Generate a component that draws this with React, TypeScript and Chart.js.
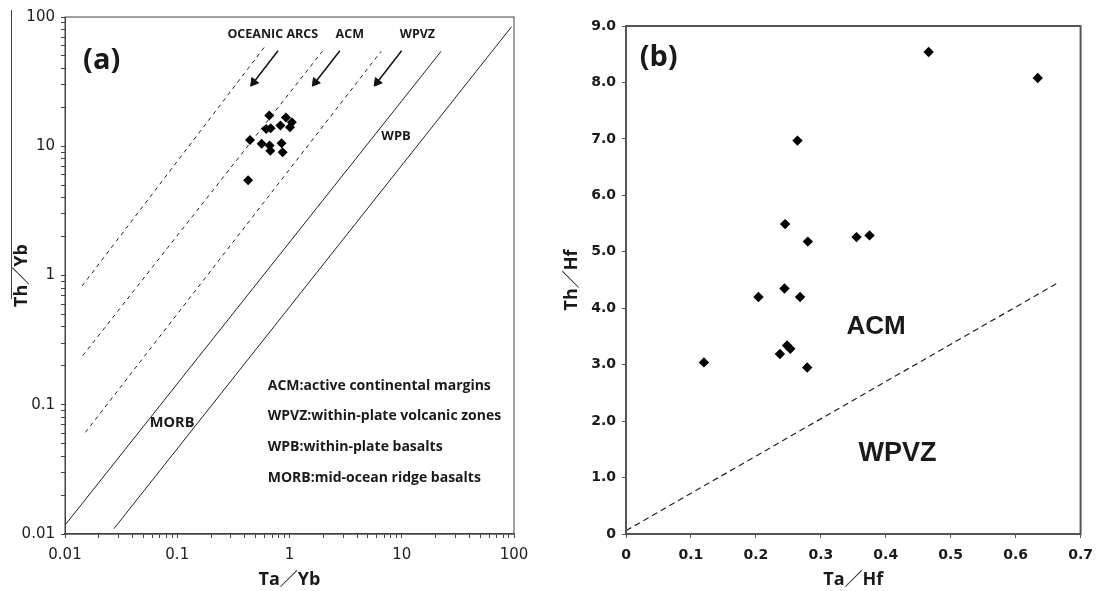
import React, { useEffect, useRef } from 'react';
import { Chart, registerables } from 'chart.js';

Chart.register(...registerables);

// ---------------- Panel (a): Th/Yb vs Ta/Yb (log-log) ----------------
const A_TA_YB = [0.66, 0.93, 1.05, 1.01, 0.83, 0.62, 0.68, 0.445, 0.565, 0.665, 0.85, 0.675, 0.868, 0.428];
const A_TH_YB = [17.3, 16.7, 15.35, 14.0, 14.5, 13.6, 13.8, 11.2, 10.45, 10.15, 10.55, 9.25, 9.0, 5.45];

const A_SOLID_1_X = [0.01, 22.4];
const A_SOLID_1_Y = [0.0117, 54.2];
const A_SOLID_2_X = [0.0273, 95];
const A_SOLID_2_Y = [0.011, 84];
const A_DASH_1_X = [0.0142, 0.61];
const A_DASH_1_Y = [0.83, 59.8];
const A_DASH_2_X = [0.0144, 1.96];
const A_DASH_2_Y = [0.24, 54.2];
const A_DASH_3_X = [0.0152, 6.54];
const A_DASH_3_Y = [0.0612, 54.2];

const A_ARROW_1_X = [0.79, 0.48];
const A_ARROW_2_X = [2.81, 1.7];
const A_ARROW_3_X = [9.98, 6.05];
const A_ARROW_Y = [54.8, 31.3];

const A_TICK_VALUES = [0.01, 0.1, 1, 10, 100];
const A_TICK_LABELS = ['0.01', '0.1', '1', '10', '100'];

const A_LEGEND_LINES = [
  'ACM:active continental margins',
  'WPVZ:within-plate volcanic zones',
  'WPB:within-plate basalts',
  'MORB:mid-ocean ridge basalts',
];
const A_LEGEND_Y = [0.139, 0.0813, 0.047, 0.027];

// ---------------- Panel (b): Th/Hf vs Ta/Hf ----------------
const B_TA_HF = [0.466, 0.634, 0.264, 0.245, 0.28, 0.355, 0.375, 0.244, 0.204, 0.268, 0.12, 0.237, 0.248, 0.253, 0.279];
const B_TH_HF = [8.54, 8.08, 6.97, 5.49, 5.18, 5.26, 5.29, 4.35, 4.2, 4.2, 3.04, 3.19, 3.34, 3.28, 2.95];

const B_LINE_X = [0, 0.665];
const B_LINE_Y = [0.06, 4.45];

const B_X_TICKS = [0, 0.1, 0.2, 0.3, 0.4, 0.5, 0.6, 0.7];
const B_X_LABELS = ['0', '0.1', '0.2', '0.3', '0.4', '0.5', '0.6', '0.7'];
const B_Y_TICKS = [0, 1, 2, 3, 4, 5, 6, 7, 8, 9];
const B_Y_LABELS = ['0', '1.0', '2.0', '3.0', '4.0', '5.0', '6.0', '7.0', '8.0', '9.0'];

// ---------------- helpers ----------------
const pts = (xs: number[], ys: number[]) => xs.map((x, i) => ({ x, y: ys[i] }));

function logMinorTicks(values: number[]) {
  const out: number[] = [];
  for (let i = 0; i < values.length - 1; i++) {
    for (let k = 1; k < 10; k++) out.push(Number((values[i] * k).toPrecision(6)));
  }
  out.push(values[values.length - 1]);
  return out;
}

type Note = { text: string; x: number; y: number; font: string; align?: CanvasTextAlign; color?: string };

const notesPlugin = {
  id: 'notes',
  afterDatasetsDraw(chart: any, _args: any, opts: any) {
    const { ctx, scales, chartArea } = chart;
    ctx.save();
    if (opts.frame) {
      ctx.strokeStyle = opts.frame.color;
      ctx.lineWidth = opts.frame.width;
      ctx.strokeRect(chartArea.left, chartArea.top, chartArea.right - chartArea.left, chartArea.bottom - chartArea.top);
    }
    (opts.notes || []).forEach((n: Note) => {
      ctx.font = n.font;
      ctx.fillStyle = n.color || '#1a1a1a';
      ctx.textAlign = n.align || 'center';
      ctx.textBaseline = 'middle';
      ctx.fillText(n.text, scales.x.getPixelForValue(n.x), scales.y.getPixelForValue(n.y));
    });
    ctx.restore();
  },
};

const SANS = '"Open Sans", "Noto Sans CJK SC", sans-serif';

function lineDs(xs: number[], ys: number[], dash: number[], width = 1) {
  return {
    data: pts(xs, ys),
    showLine: true,
    borderColor: '#222',
    borderWidth: width,
    borderDash: dash,
    pointRadius: 0,
    pointHoverRadius: 0,
  };
}

function arrowDs(xs: number[], ys: number[]) {
  return {
    data: pts(xs, ys),
    showLine: true,
    borderColor: '#111',
    borderWidth: 1.5,
    pointRadius: [0, 5],
    pointHoverRadius: [0, 5],
    pointStyle: 'triangle',
    pointRotation: 218,
    pointBackgroundColor: '#111',
    pointBorderColor: '#111',
    pointBorderWidth: 1,
  };
}

function ChartA() {
  const ref = useRef<HTMLCanvasElement>(null);
  useEffect(() => {
    const ticks = logMinorTicks(A_TICK_VALUES);
    const label = (v: number) => {
      const j = A_TICK_VALUES.findIndex((t) => Math.abs(Math.log10(t) - Math.log10(v)) < 1e-6);
      return j >= 0 ? A_TICK_LABELS[j] : '';
    };
    const axisCommon = (isX: boolean) => ({
      type: 'logarithmic',
      min: 0.01,
      max: 100,
      afterBuildTicks: (s: any) => {
        s.ticks = ticks.map((v) => ({ value: v }));
      },
      afterFit: (s: any) => {
        if (isX) s.height = 57;
        else s.width = 65;
      },
      ticks: {
        autoSkip: false,
        maxRotation: 0,
        padding: isX ? 8 : 6,
        color: '#222',
        font: { family: '"DejaVu Sans", sans-serif', size: 15 },
        callback: (v: number) => label(v),
      },
      grid: { drawOnChartArea: false, drawTicks: true, tickLength: 4, tickColor: '#444', color: '#444' },
      border: { display: true, color: '#444', width: isX ? 1.5 : 1 },
      title: {
        display: true,
        text: isX ? 'Ta／Yb' : 'Th／Yb',
        color: '#1a1a1a',
        font: { family: SANS, size: 18, weight: 'bold' },
        padding: isX ? { top: 0, bottom: 0 } : { top: 11, bottom: 0 },
      },
    });
    const noteFont = (px: number) => `bold ${px}px ${SANS}`;
    const chart = new Chart(ref.current as HTMLCanvasElement, {
      type: 'scatter',
      data: {
        datasets: [
          {
            data: pts(A_TA_YB, A_TH_YB),
            pointStyle: 'rectRot',
            pointRadius: 5,
            pointHoverRadius: 5,
            backgroundColor: '#000',
            borderColor: '#000',
            borderWidth: 0,
          },
          arrowDs(A_ARROW_1_X, A_ARROW_Y),
          arrowDs(A_ARROW_2_X, A_ARROW_Y),
          arrowDs(A_ARROW_3_X, A_ARROW_Y),
          lineDs(A_DASH_1_X, A_DASH_1_Y, [4, 4]),
          lineDs(A_DASH_2_X, A_DASH_2_Y, [4, 4]),
          lineDs(A_DASH_3_X, A_DASH_3_Y, [4, 4]),
          lineDs(A_SOLID_1_X, A_SOLID_1_Y, []),
          lineDs(A_SOLID_2_X, A_SOLID_2_Y, []),
        ] as any,
      },
      options: {
        animation: false,
        responsive: false,
        devicePixelRatio: 1,
        layout: { padding: { top: 17, right: 31, left: 0, bottom: 0 } },
        scales: { x: axisCommon(true), y: axisCommon(false) } as any,
        plugins: {
          legend: { display: false },
          tooltip: { enabled: false },
          notes: {
            frame: { color: '#444', width: 1 },
            notes: [
              { text: '(a)', x: 0.0145, y: 46, font: noteFont(29), align: 'left' },
              { text: 'OCEANIC ARCS', x: 0.71, y: 73, font: noteFont(12.5) },
              { text: 'ACM', x: 3.44, y: 73, font: noteFont(12.5) },
              { text: 'WPVZ', x: 13.8, y: 73, font: noteFont(12.5) },
              { text: 'WPB', x: 8.9, y: 11.9, font: noteFont(13) },
              { text: 'MORB', x: 0.09, y: 0.0723, font: noteFont(14.5) },
              ...A_LEGEND_LINES.map((t, i) => ({ text: t, x: 0.64, y: A_LEGEND_Y[i], font: noteFont(14), align: 'left' })),
            ],
          },
        } as any,
      },
      plugins: [notesPlugin as any],
    });
    return () => chart.destroy();
  }, []);
  return <canvas ref={ref} width={545} height={591} style={{ width: 545, height: 591, display: 'block' }} />;
}

function ChartB() {
  const ref = useRef<HTMLCanvasElement>(null);
  useEffect(() => {
    const tickFont = { family: '"DejaVu Sans", sans-serif', size: 14, weight: 'bold' };
    const chart = new Chart(ref.current as HTMLCanvasElement, {
      type: 'scatter',
      data: {
        datasets: [
          {
            data: pts(B_TA_HF, B_TH_HF),
            pointStyle: 'rectRot',
            pointRadius: 5.2,
            pointHoverRadius: 5.2,
            backgroundColor: '#000',
            borderColor: '#000',
            borderWidth: 0,
          },
          lineDs(B_LINE_X, B_LINE_Y, [6, 4], 1.2),
        ] as any,
      },
      options: {
        animation: false,
        responsive: false,
        devicePixelRatio: 1,
        layout: { padding: { top: 26, right: 12, left: 0, bottom: 0 } },
        scales: {
          x: {
            type: 'linear',
            min: 0,
            max: 0.7,
            afterBuildTicks: (s: any) => {
              s.ticks = B_X_TICKS.map((v) => ({ value: v }));
            },
            afterFit: (s: any) => {
              s.height = 57;
            },
            ticks: {
              autoSkip: false,
              maxRotation: 0,
              padding: 9,
              color: '#1a1a1a',
              font: tickFont,
              callback: (_v: number, i: number) => B_X_LABELS[i],
            },
            grid: { drawOnChartArea: false, drawTicks: true, tickLength: 4, tickColor: '#555', color: '#555' },
            border: { display: true, color: '#555', width: 2 },
            title: {
              display: true,
              text: 'Ta／Hf',
              color: '#1a1a1a',
              font: { family: SANS, size: 18, weight: 'bold' },
              padding: { top: 0, bottom: 0 },
            },
          },
          y: {
            type: 'linear',
            min: 0,
            max: 9,
            afterBuildTicks: (s: any) => {
              s.ticks = B_Y_TICKS.map((v) => ({ value: v }));
            },
            afterFit: (s: any) => {
              s.width = 81;
            },
            ticks: {
              autoSkip: false,
              padding: 6,
              color: '#1a1a1a',
              font: tickFont,
              callback: (_v: number, i: number) => B_Y_LABELS[i],
            },
            grid: { drawOnChartArea: false, drawTicks: true, tickLength: 4, tickColor: '#555', color: '#555' },
            border: { display: true, color: '#555', width: 2 },
            title: {
              display: true,
              text: 'Th／Hf',
              color: '#1a1a1a',
              font: { family: SANS, size: 18, weight: 'bold' },
              padding: { top: 16, bottom: 0 },
            },
          },
        } as any,
        plugins: {
          legend: { display: false },
          tooltip: { enabled: false },
          notes: {
            frame: { color: '#555', width: 2 },
            notes: [
              { text: '(b)', x: 0.021, y: 8.43, font: `bold 29px ${SANS}`, align: 'left' },
              { text: 'ACM', x: 0.385, y: 3.67, font: 'bold 26px "Liberation Sans", Arial, sans-serif' },
              { text: 'WPVZ', x: 0.418, y: 1.42, font: 'bold 27px "Liberation Sans", Arial, sans-serif' },
            ],
          },
        } as any,
      },
      plugins: [notesPlugin as any],
    });
    return () => chart.destroy();
  }, []);
  return <canvas ref={ref} width={557} height={591} style={{ width: 557, height: 591, display: 'block' }} />;
}

export default function App() {
  return (
    <div style={{ position: 'absolute', left: 0, top: 0, width: 1102, height: 591, background: '#fff', overflow: 'hidden' }}>
      <div style={{ position: 'absolute', left: 0, top: 0, width: 545, height: 591 }}>
        <ChartA />
        <div style={{ position: 'absolute', left: 11, top: 10, width: 0, height: 289, borderLeft: '1px solid #444' }} />
      </div>
      <div style={{ position: 'absolute', left: 545, top: 0, width: 557, height: 591 }}>
        <ChartB />
      </div>
    </div>
  );
}
